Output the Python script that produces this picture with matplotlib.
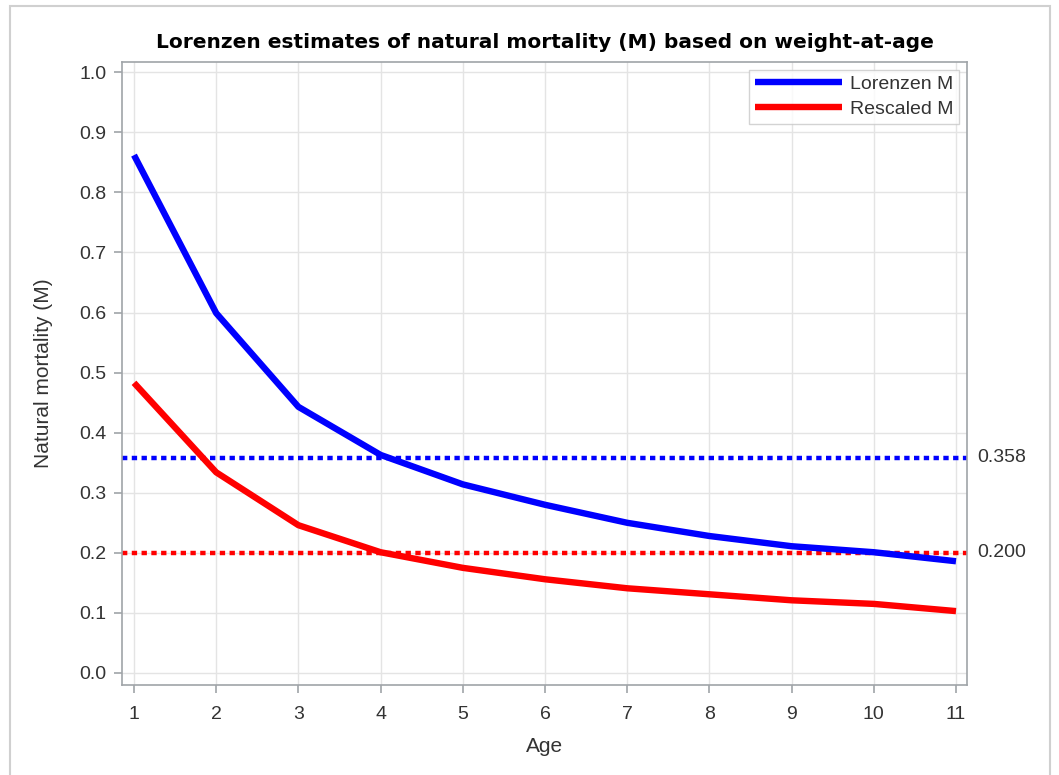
import matplotlib
matplotlib.use("Agg")
import matplotlib.pyplot as plt
from matplotlib.patches import Rectangle

ages = [1, 2, 3, 4, 5, 6, 7, 8, 9, 10, 11]
lorenzen_m = [0.862, 0.599, 0.443, 0.363, 0.314, 0.280, 0.250, 0.228, 0.211, 0.201, 0.186]
rescaled_m = [0.483, 0.334, 0.246, 0.201, 0.175, 0.156, 0.141, 0.131, 0.121, 0.115, 0.103]
ref_lorenzen = 0.358
ref_rescaled = 0.200
yticks = [0.0, 0.1, 0.2, 0.3, 0.4, 0.5, 0.6, 0.7, 0.8, 0.9, 1.0]

plt.rcParams['font.family'] = ['Liberation Sans', 'DejaVu Sans']

fig = plt.figure(figsize=(10.59, 7.75), dpi=100)
fig.patches.append(Rectangle((10/1059, -0.01), 1040/1059, 1 - 6/775 + 0.01,
                             transform=fig.transFigure, fill=False,
                             edgecolor='#d0d0d0', linewidth=1.5))
ax = fig.add_axes([122/1059, 1 - 685/775, 845/1059, 623/775])

gridc = '#e4e4e4'
ax.set_axisbelow(True)
ax.grid(True, color=gridc, linewidth=1)

ax.axhline(ref_lorenzen, color='#0000ff', linestyle=(0, (1.2, 1.0)), linewidth=3.2, zorder=2)
ax.axhline(ref_rescaled, color='#ff0000', linestyle=(0, (1.2, 1.0)), linewidth=3.2, zorder=2)

ax.plot(ages, lorenzen_m, color='#0000ff', linewidth=4.6, label='Lorenzen M',
        solid_capstyle='butt', zorder=3)
ax.plot(ages, rescaled_m, color='#ff0000', linewidth=4.6, label='Rescaled M',
        solid_capstyle='butt', zorder=3)

ax.set_xlim(0.854, 11.134)
ax.set_ylim(-0.020, 1.017)
ax.set_xticks(ages)
ax.set_xticklabels([str(a) for a in ages])
ax.set_yticks(yticks)
ax.set_yticklabels([f"{v:.1f}" for v in yticks])

for s in ax.spines.values():
    s.set_color('#a0a4a8')
    s.set_linewidth(1.2)
ax.tick_params(colors='#a0a4a8', labelcolor='#333333', labelsize=14,
               length=6, width=1.2)
ax.tick_params(axis='x', pad=9)
ax.tick_params(axis='y', pad=5)

ax.set_xlabel('Age', fontsize=15, color='#333333', labelpad=10)
ax.set_ylabel('Natural mortality (M)', fontsize=15, color='#333333', labelpad=19)
ax.set_title('Lorenzen estimates of natural mortality (M) based on weight-at-age',
             fontsize=14.5, fontweight='bold', color='#000000', pad=10,
             family=['DejaVu Sans'])

ax.text(1.012, ref_lorenzen, f"{ref_lorenzen:.3f}", transform=ax.get_yaxis_transform(),
        va='center', ha='left', fontsize=14, color='#333333')
ax.text(1.012, ref_rescaled, f"{ref_rescaled:.3f}", transform=ax.get_yaxis_transform(),
        va='center', ha='left', fontsize=14, color='#333333')

leg = ax.legend(loc='upper right', fontsize=14, frameon=True, fancybox=False,
                handlelength=4.5, borderaxespad=0.4, labelspacing=0.38,
                handletextpad=0.4, borderpad=0.3)
leg.get_frame().set_edgecolor('#c8c8c8')
leg.get_frame().set_linewidth(1)
for t in leg.get_texts():
    t.set_color('#333333')

fig.savefig('out.png', dpi=100)
